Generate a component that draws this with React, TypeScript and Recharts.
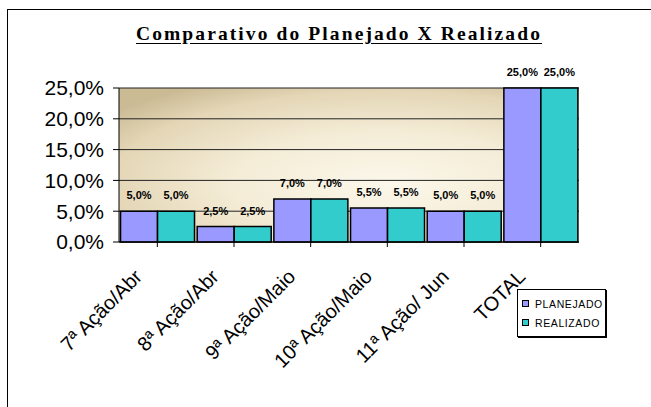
import React from 'react';
import { BarChart, Bar, XAxis, YAxis, CartesianGrid, Legend, LabelList } from 'recharts';

const categorias = ['7ª Ação/Abr', '8ª Ação/Abr', '9ª Ação/Maio', '10ª Ação/Maio', '11ª Ação/ Jun', 'TOTAL'];
const planejado = [5.0, 2.5, 7.0, 5.5, 5.0, 25.0];
const realizado = [5.0, 2.5, 7.0, 5.5, 5.0, 25.0];
const yTicks = [0, 5, 10, 15, 20, 25];

const series = [
  { key: 'planejado', label: 'PLANEJADO', color: '#9999ff' },
  { key: 'realizado', label: 'REALIZADO', color: '#33cccc' },
];

const data = categorias.map((nome, i) => ({ nome, planejado: planejado[i], realizado: realizado[i] }));

const pct = (v: number) => `${v.toFixed(1).replace('.', ',')}%`;

const XTick = (props: any) => {
  const { x, y, payload } = props;
  return (
    <g transform={`translate(${x - 14},${y + 29}) rotate(-45)`}>
      <text textAnchor="end" fontFamily="'Liberation Sans', Arial, sans-serif" fontSize={20} fill="#000">
        {payload.value}
      </text>
    </g>
  );
};

const LegendBox = () => (
  <div style={{
    border: '1px solid #000', background: '#fff', width: 89, padding: '4px 0 4px 4px',
    boxShadow: '1px 1px 0 #000', boxSizing: 'border-box',
  }}>
    {series.map(s => (
      <div key={s.key} style={{ display: 'flex', alignItems: 'center', height: 19 }}>
        <span style={{ width: 5, height: 5, background: s.color, border: '1.5px solid #000', marginRight: 6 }} />
        <span style={{ fontFamily: "'Liberation Sans', Arial, sans-serif", fontSize: 10.5, letterSpacing: 0.6, color: '#000' }}>
          {s.label}
        </span>
      </div>
    ))}
  </div>
);

export default function App() {
  return (
    <div style={{ position: 'absolute', left: 0, top: 0, width: 651, height: 407, overflow: 'hidden', background: '#fff' }}>
      <div style={{ position: 'absolute', left: 7, top: 9, width: 800, height: 600, borderLeft: '1.5px solid #000', borderTop: '1.5px solid #000' }} />
      <div style={{
        position: 'absolute', left: 0, width: 678, top: 24, textAlign: 'center',
        fontFamily: "'Liberation Serif', 'Times New Roman', serif", fontWeight: 'bold', fontSize: 19.5,
        letterSpacing: 2.1, textDecoration: 'underline', textUnderlineOffset: 3, lineHeight: '20px',
      }}>
        Comparativo do Planejado X Realizado
      </div>
      <BarChart
        width={651}
        height={407}
        data={data}
        margin={{ top: 88, right: 72, bottom: 135, left: 0 }}
        barCategoryGap="2%"
        barGap={0}
        style={{ position: 'absolute', left: 0, top: 0 }}
      >
        <defs>
          <radialGradient id="fundo" cx="0.58" cy="0.62" r="0.75">
            <stop offset="0%" stopColor="#fbf7ea" />
            <stop offset="45%" stopColor="#f4ecd6" />
            <stop offset="80%" stopColor="#e4d6b6" />
            <stop offset="100%" stopColor="#cbbb95" />
          </radialGradient>
        </defs>
        <CartesianGrid vertical={false} stroke="#222" fill="url(#fundo)" fillOpacity={1} />
        <XAxis
          dataKey="nome"
          interval={0}
          tick={<XTick />}
          axisLine={{ stroke: '#000' }}
          tickLine={{ stroke: '#000' }}
          tickSize={5}
          height={30}
        />
        <YAxis
          width={119}
          domain={[0, 25]}
          ticks={yTicks}
          interval={0}
          tickFormatter={pct}
          axisLine={{ stroke: '#000' }}
          tickLine={{ stroke: '#000' }}
          tickSize={6}
          tickMargin={9}
          tick={{ fill: '#000', fontSize: 21, fontFamily: "'Liberation Sans', Arial, sans-serif" }}
        />
        <Legend
          layout="vertical"
          align="center"
          verticalAlign="middle"
          content={<LegendBox />}
          wrapperStyle={{ position: 'absolute', left: 517, top: 289, width: 89 }}
        />
        {series.map(s => (
          <Bar key={s.key} dataKey={s.key} name={s.label} fill={s.color} stroke="#000" strokeWidth={1.5} isAnimationActive={false}>
            <LabelList
              dataKey={s.key}
              position="top"
              offset={12}
              formatter={(v: any) => pct(Number(v))}
              style={{ fontSize: 11, fontWeight: 'bold', fontFamily: "'Liberation Sans Narrow', 'Liberation Sans', Arial, sans-serif", fill: '#000' }}
            />
          </Bar>
        ))}
      </BarChart>
    </div>
  );
}
